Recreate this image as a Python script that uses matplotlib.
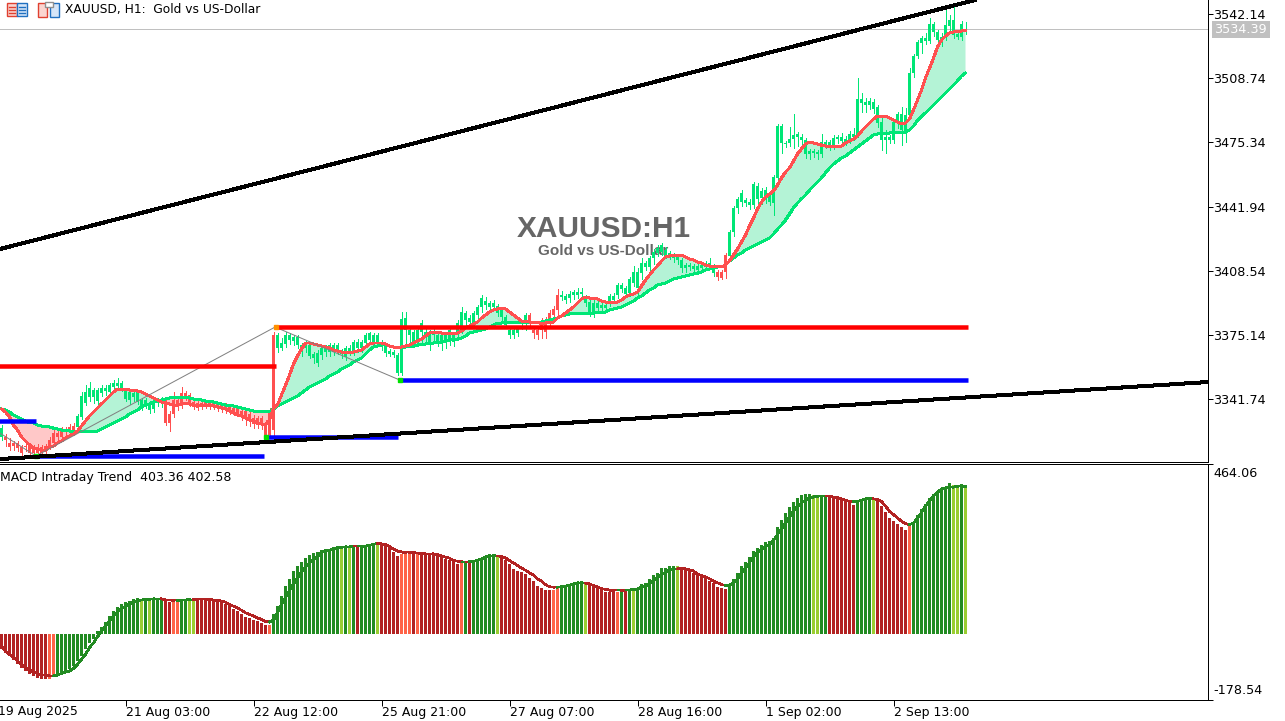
import matplotlib
matplotlib.use('Agg')
import matplotlib.pyplot as plt
from matplotlib.patches import Rectangle
import numpy as np

# H1 candles, one row = 10 bars
opens = [3321.9,3320.4,3316.8,3317.3,3316.2,3313.6,3316.8,3313.6,3313.6,3313.6,
3313.6,3314.2,3317.3,3318.8,3321.9,3321.9,3324.6,3325.1,3324.6,3327.2,
3332.4,3339.7,3342.8,3342.8,3340.7,3344.9,3345.9,3345.4,3348.0,3348.5,
3347.5,3341.7,3341.2,3342.8,3340.2,3337.6,3338.6,3336.0,3336.5,3339.7,
3339.7,3329.3,3329.3,3334.0,3337.6,3338.6,3342.8,3339.7,3337.6,3337.1,
3337.6,3338.1,3338.1,3337.6,3337.1,3336.5,3336.0,3335.5,3335.0,3334.5,
3332.4,3331.9,3330.8,3328.8,3328.2,3328.2,3323.0,3323.0,3325.6,3368.3,
3368.3,3370.4,3372.5,3372.0,3369.9,3366.2,3368.3,3364.1,3363.1,3360.5,
3364.6,3366.2,3366.2,3366.2,3367.3,3365.2,3363.6,3366.2,3366.2,3368.3,
3368.3,3370.9,3372.5,3371.4,3371.4,3368.8,3365.7,3365.2,3364.6,3355.3,
3355.3,3377.7,3375.1,3371.4,3371.4,3376.6,3375.1,3370.9,3375.1,3371.4,
3371.4,3371.4,3372.5,3371.4,3375.1,3377.7,3382.9,3381.8,3381.3,3385.5,
3389.6,3390.7,3389.6,3389.6,3386.5,3384.4,3380.3,3375.1,3375.1,3376.1,
3380.8,3381.8,3382.9,3376.1,3375.1,3377.7,3376.6,3381.8,3385.5,3388.1,
3394.8,3393.3,3394.3,3395.9,3395.9,3396.4,3391.7,3386.5,3387.0,3389.1,
3389.1,3389.1,3392.2,3393.3,3395.9,3399.0,3396.4,3396.9,3402.1,3399.5,
3407.4,3410.5,3410.5,3415.1,3417.7,3418.2,3415.7,3416.2,3415.1,3414.1,
3409.9,3409.9,3410.5,3409.4,3408.9,3409.9,3410.5,3411.0,3407.3,3405.3,
3404.7,3407.9,3416.2,3428.7,3441.2,3444.3,3443.8,3442.7,3442.7,3445.9,
3446.4,3446.4,3444.3,3443.8,3456.8,3475.0,3474.5,3475.0,3477.1,3478.1,
3476.6,3469.3,3469.3,3469.8,3469.3,3469.3,3474.5,3472.9,3472.9,3477.1,
3476.0,3475.0,3476.6,3478.1,3479.2,3495.8,3494.8,3494.8,3492.7,3485.4,
3476.6,3476.6,3476.6,3476.6,3485.9,3481.8,3480.7,3489.6,3511.4,3520.3,
3527.1,3528.1,3528.1,3532.8,3528.6,3528.1,3530.2,3535.9,3531.2,3530.2,
3530.2,3533.3]

closes = [3326.6,3321.9,3318.8,3318.8,3318.8,3316.8,3317.3,3317.3,3316.8,3316.8,
3316.8,3317.3,3320.4,3324.0,3324.0,3325.6,3325.6,3327.2,3327.7,3332.9,
3343.3,3345.4,3347.5,3346.4,3346.4,3347.5,3347.5,3349.0,3350.1,3350.1,
3350.1,3346.4,3345.4,3344.9,3345.4,3341.2,3341.2,3339.7,3339.7,3341.2,
3341.2,3339.7,3334.0,3341.2,3341.2,3344.9,3344.9,3343.8,3340.2,3339.7,
3339.7,3340.2,3339.7,3339.7,3339.2,3338.6,3338.6,3338.1,3337.1,3337.1,
3335.5,3335.5,3334.0,3331.9,3331.9,3331.9,3329.3,3334.5,3375.1,3375.1,
3370.9,3375.1,3375.1,3374.0,3374.0,3369.9,3370.9,3369.9,3365.2,3365.7,
3368.3,3368.3,3369.9,3369.9,3369.9,3366.7,3368.3,3368.3,3371.4,3371.4,
3371.4,3375.1,3376.1,3375.1,3375.1,3370.9,3369.9,3366.7,3366.2,3364.6,
3383.4,3383.9,3377.7,3376.6,3377.7,3381.3,3376.6,3375.1,3376.6,3375.1,
3375.1,3375.1,3377.7,3375.1,3381.3,3387.0,3386.5,3383.9,3386.5,3389.6,
3394.3,3392.8,3391.7,3391.7,3390.2,3388.1,3384.4,3377.7,3377.7,3378.7,
3381.8,3385.5,3385.5,3377.7,3377.7,3381.8,3382.9,3386.5,3388.6,3395.9,
3395.9,3395.4,3396.4,3397.4,3397.4,3397.4,3394.8,3392.2,3391.7,3391.7,
3390.7,3390.7,3395.4,3395.4,3401.1,3401.1,3399.5,3404.2,3407.9,3407.9,
3412.5,3412.5,3415.1,3418.2,3420.3,3421.9,3419.3,3417.7,3416.7,3415.7,
3414.1,3411.5,3411.5,3411.0,3411.0,3411.5,3412.5,3412.5,3410.5,3407.9,
3407.9,3416.7,3428.7,3441.2,3445.9,3449.0,3445.3,3444.3,3453.7,3452.6,
3450.0,3450.5,3447.9,3457.3,3483.8,3483.8,3475.0,3477.1,3479.2,3479.7,
3478.1,3476.6,3470.8,3470.8,3470.3,3475.5,3475.5,3475.5,3477.6,3478.1,
3478.1,3477.1,3479.7,3479.7,3497.9,3497.9,3496.3,3496.9,3496.3,3493.7,
3485.9,3478.1,3478.1,3485.9,3490.1,3490.1,3489.6,3511.4,3520.3,3527.6,
3529.7,3529.7,3536.9,3536.9,3532.8,3530.2,3536.4,3539.0,3539.0,3531.7,
3536.9,3534.4]

highs = [3328.2,3323.5,3321.4,3319.9,3319.9,3317.8,3318.8,3318.8,3317.8,3318.3,
3317.8,3318.3,3321.9,3325.6,3325.1,3327.2,3327.2,3328.7,3329.3,3334.0,
3345.4,3349.0,3350.6,3347.5,3347.5,3349.0,3349.0,3350.1,3351.6,3352.7,
3351.1,3347.5,3346.4,3345.9,3346.4,3342.3,3342.3,3340.7,3341.2,3342.3,
3342.8,3341.7,3335.5,3345.4,3342.3,3348.0,3345.9,3344.9,3341.2,3341.2,
3340.7,3341.2,3340.7,3340.7,3340.2,3339.7,3339.7,3339.2,3338.6,3338.1,
3337.1,3336.5,3335.0,3333.4,3332.9,3332.9,3330.8,3337.1,3376.6,3376.1,
3373.5,3376.6,3376.1,3375.1,3375.1,3370.9,3371.9,3370.9,3366.2,3367.3,
3369.3,3369.9,3370.9,3370.9,3370.9,3367.8,3369.3,3369.9,3372.5,3373.0,
3372.5,3376.1,3376.6,3376.1,3376.1,3372.5,3370.9,3367.8,3367.3,3365.7,
3387.0,3387.0,3378.7,3377.7,3378.7,3382.9,3378.7,3377.7,3378.7,3376.6,
3376.6,3376.6,3379.2,3376.6,3382.9,3389.6,3387.6,3385.5,3387.6,3390.7,
3395.9,3394.8,3392.8,3393.3,3391.2,3389.1,3385.5,3379.2,3378.7,3379.7,
3382.9,3386.5,3386.5,3379.2,3379.2,3383.9,3384.4,3388.1,3390.2,3399.0,
3397.9,3396.4,3397.9,3398.5,3399.5,3399.5,3395.9,3393.8,3393.3,3392.8,
3391.7,3392.8,3396.4,3396.9,3402.1,3402.1,3400.6,3405.3,3411.0,3409.9,
3415.1,3413.6,3416.2,3419.8,3421.9,3422.9,3420.9,3418.8,3417.7,3417.2,
3415.1,3412.5,3412.5,3412.0,3412.0,3413.0,3413.6,3415.1,3412.0,3408.9,
3408.9,3417.7,3429.7,3442.2,3446.9,3450.5,3446.4,3445.9,3454.7,3454.2,
3451.6,3452.1,3449.5,3458.3,3484.9,3484.9,3476.0,3483.3,3490.1,3480.7,
3479.7,3477.6,3471.9,3471.9,3471.4,3479.7,3476.6,3476.6,3479.2,3479.2,
3480.2,3478.6,3481.2,3482.8,3508.8,3501.0,3498.4,3498.4,3497.9,3494.8,
3488.0,3481.8,3479.2,3487.0,3491.1,3493.7,3493.2,3514.0,3521.3,3528.6,
3530.7,3532.3,3540.1,3538.0,3533.8,3532.3,3545.8,3541.6,3545.8,3533.8,
3538.5,3538.0]

lows = [3320.4,3317.3,3315.2,3315.2,3314.7,3312.1,3314.7,3312.1,3312.6,3312.1,
3312.6,3313.1,3315.7,3317.8,3319.9,3319.9,3322.5,3323.5,3323.0,3325.6,
3331.3,3338.6,3340.7,3339.7,3339.2,3343.3,3343.8,3343.3,3346.4,3346.9,
3345.9,3340.7,3339.2,3340.7,3339.2,3336.0,3337.1,3334.5,3335.0,3338.1,
3337.6,3328.2,3325.1,3332.4,3336.0,3337.1,3341.2,3338.1,3336.5,3336.0,
3336.5,3337.1,3336.5,3336.5,3335.5,3335.0,3334.5,3334.0,3333.4,3332.9,
3330.8,3328.2,3327.7,3326.6,3326.6,3326.1,3322.0,3322.0,3323.0,3366.2,
3367.3,3368.8,3370.4,3369.9,3368.3,3364.1,3366.2,3363.1,3360.5,3358.9,
3362.6,3364.1,3364.1,3364.6,3365.2,3363.1,3362.0,3364.6,3364.6,3366.2,
3366.2,3369.3,3370.4,3369.9,3369.3,3367.3,3364.1,3364.1,3363.6,3354.2,
3354.2,3370.9,3369.9,3368.8,3369.3,3371.4,3371.4,3367.3,3371.4,3369.3,
3367.3,3368.3,3369.9,3369.3,3372.5,3376.1,3379.7,3379.7,3379.2,3382.9,
3387.0,3388.6,3388.1,3388.1,3384.9,3382.9,3378.7,3373.5,3373.5,3374.5,
3378.2,3377.7,3380.3,3373.5,3373.0,3373.5,3373.5,3378.7,3382.9,3385.5,
3393.3,3391.7,3392.2,3393.8,3394.3,3394.3,3390.2,3384.9,3384.4,3386.5,
3386.5,3387.0,3390.2,3391.7,3394.3,3397.4,3395.4,3395.4,3400.6,3395.4,
3404.2,3408.9,3407.9,3412.0,3416.2,3416.7,3415.1,3414.6,3413.0,3412.0,
3407.9,3407.9,3408.9,3407.3,3406.8,3407.9,3408.9,3409.4,3405.8,3403.7,
3404.2,3404.7,3415.1,3426.6,3438.6,3442.2,3442.2,3440.6,3441.2,3443.8,
3443.3,3443.8,3442.7,3437.5,3455.7,3469.8,3472.9,3473.4,3472.4,3473.4,
3473.9,3467.2,3466.7,3467.7,3466.7,3467.7,3472.4,3471.4,3471.9,3475.0,
3474.5,3473.9,3475.0,3476.6,3478.1,3491.1,3491.1,3492.7,3490.6,3483.3,
3471.4,3469.8,3475.0,3475.0,3482.8,3473.9,3475.5,3488.5,3509.4,3519.2,
3521.8,3526.5,3527.1,3530.7,3526.5,3525.5,3528.6,3533.8,3529.7,3529.1,
3528.6,3531.7]

# moving averages
ma_fast = [3336.5,3335.0,3332.4,3328.2,3325.6,3322.0,3319.9,3317.8,3316.2,3315.7,
3315.2,3315.2,3316.8,3317.3,3318.8,3319.9,3321.4,3322.5,3323.5,3325.1,
3327.7,3330.3,3332.9,3335.0,3337.1,3339.2,3341.2,3343.3,3345.4,3346.9,
3346.9,3346.9,3346.4,3346.4,3345.9,3345.4,3344.3,3343.3,3342.3,3341.2,
3340.2,3339.7,3339.2,3338.6,3338.6,3339.2,3339.2,3339.2,3338.6,3338.6,
3338.6,3338.6,3338.6,3338.1,3337.6,3337.1,3336.5,3335.5,3334.5,3333.4,
3332.9,3331.9,3330.8,3330.3,3329.3,3328.7,3328.2,3330.8,3337.1,3338.6,
3343.8,3349.0,3354.2,3360.0,3364.1,3367.8,3370.9,3370.9,3370.4,3369.9,
3369.3,3368.8,3368.3,3367.3,3366.7,3366.2,3366.2,3366.2,3366.2,3366.7,
3367.3,3368.8,3370.4,3370.9,3370.9,3370.9,3370.4,3369.3,3368.8,3368.3,
3368.8,3369.3,3369.9,3370.9,3371.9,3373.0,3374.5,3376.1,3376.6,3376.6,
3376.1,3376.1,3376.1,3376.1,3376.1,3377.2,3378.7,3379.7,3380.8,3381.8,
3383.9,3385.5,3387.0,3388.1,3388.6,3388.6,3388.6,3387.0,3385.5,3383.9,
3382.3,3382.3,3381.8,3381.8,3381.8,3380.8,3381.3,3381.8,3381.8,3383.9,
3384.9,3386.5,3388.1,3389.6,3391.7,3393.8,3394.8,3394.3,3394.3,3393.8,
3392.8,3392.2,3392.2,3392.2,3392.2,3393.3,3394.8,3395.9,3396.4,3397.4,
3400.6,3403.7,3406.3,3408.9,3411.0,3413.6,3415.7,3416.2,3416.7,3416.7,
3416.7,3415.7,3414.6,3414.1,3413.0,3412.5,3411.5,3411.0,3410.5,3410.5,
3410.5,3411.5,3413.6,3416.7,3419.8,3423.5,3427.1,3431.8,3436.0,3440.6,
3444.3,3446.9,3448.5,3450.0,3453.1,3456.8,3459.9,3462.0,3465.6,3469.3,
3471.9,3474.5,3475.5,3475.0,3474.5,3473.9,3473.4,3473.4,3473.4,3473.4,
3473.4,3475.0,3476.0,3477.1,3478.6,3481.2,3483.3,3485.4,3487.5,3489.0,
3489.0,3489.0,3488.0,3487.0,3485.9,3484.9,3485.4,3487.5,3492.2,3497.4,
3502.6,3508.8,3514.0,3519.2,3525.0,3528.6,3530.7,3532.3,3532.8,3532.8,
3533.3,3533.3]

ma_slow = [3336.5,3336.0,3335.0,3333.4,3332.4,3331.4,3330.3,3329.3,3329.3,3328.2,
3327.7,3327.2,3327.2,3326.6,3326.1,3325.6,3325.1,3325.1,3324.6,3324.6,
3324.6,3324.6,3324.6,3324.6,3325.1,3326.1,3327.2,3328.2,3329.3,3330.3,
3331.4,3332.4,3334.0,3335.0,3336.0,3337.6,3338.6,3339.2,3340.2,3340.2,
3341.2,3341.7,3342.3,3342.3,3342.3,3342.3,3342.3,3342.3,3341.7,3341.7,
3341.2,3340.7,3340.2,3340.2,3339.7,3339.2,3338.6,3338.6,3338.1,3337.6,
3337.1,3336.5,3336.0,3335.5,3335.0,3335.0,3335.0,3335.0,3336.5,3338.1,
3339.2,3340.2,3341.2,3342.3,3343.3,3344.9,3346.4,3348.0,3349.0,3350.1,
3351.1,3352.2,3353.7,3354.8,3355.8,3357.4,3358.4,3359.5,3361.0,3362.0,
3363.1,3365.2,3367.3,3368.8,3369.3,3369.9,3369.9,3369.3,3368.8,3368.8,
3368.8,3368.8,3369.3,3369.3,3369.9,3369.9,3370.4,3370.4,3370.9,3371.4,
3371.4,3371.9,3372.5,3372.5,3373.0,3373.5,3374.5,3376.1,3376.6,3377.2,
3377.7,3378.2,3379.2,3380.3,3381.3,3381.3,3381.8,3381.8,3381.8,3381.8,
3381.8,3381.8,3381.8,3381.8,3381.8,3381.8,3382.3,3382.9,3383.4,3383.9,
3384.9,3385.5,3386.0,3386.5,3386.5,3386.5,3386.5,3386.5,3386.5,3387.0,
3387.0,3387.0,3388.1,3388.6,3389.1,3389.6,3390.7,3391.7,3392.8,3394.3,
3395.4,3396.9,3398.5,3399.5,3401.1,3401.6,3402.1,3403.2,3404.2,3404.7,
3405.3,3405.8,3406.3,3406.8,3407.3,3407.9,3408.9,3409.4,3409.9,3410.5,
3410.5,3411.5,3413.6,3415.1,3416.7,3417.7,3419.3,3420.3,3421.4,3422.4,
3423.5,3424.5,3425.6,3427.6,3430.2,3432.3,3434.9,3438.0,3441.2,3443.8,
3445.9,3447.9,3450.5,3452.6,3454.7,3456.8,3459.4,3462.0,3464.1,3465.6,
3467.2,3468.2,3469.8,3471.4,3472.9,3474.5,3476.0,3477.6,3479.2,3479.7,
3480.2,3480.2,3480.2,3480.7,3480.7,3480.7,3480.7,3481.8,3483.8,3486.9,
3489.0,3490.6,3492.7,3494.8,3496.9,3498.9,3501.0,3503.1,3505.2,3507.3,
3509.9,3511.4]

# MACD window
macd_hist = [-40,-53,-60,-71,-83,-93,-101,-108,-114,-119,
-123,-123,-123,-114,-114,-107,-103,-96,-87,-73,
-60,-42,-24,-13,8,20,34,49,63,73,
83,87,91,96,99,96,94,93,94,96,
98,92,87,91,91,93,94,93,94,96,
96,96,96,93,91,87,83,76,69,63,
54,47,44,38,35,31,24,24,56,76,
105,131,151,171,185,197,208,216,221,224,
230,232,230,238,239,235,239,236,239,238,
239,241,244,247,247,247,241,234,225,212,
219,221,221,221,219,219,219,219,219,216,
209,205,201,196,192,196,198,198,198,200,
207,212,216,216,212,210,203,190,178,171,
169,163,152,144,132,127,120,120,120,125,
127,129,132,140,141,143,138,135,131,126,
122,116,116,118,116,118,117,122,120,126,
136,140,149,160,167,179,181,185,185,185,
181,178,172,166,160,156,152,146,138,128,
126,122,136,149,167,187,198,209,226,234,
244,250,253,263,293,312,331,348,361,372,
380,383,383,380,371,374,374,376,376,372,
369,365,358,353,362,365,370,374,370,367,
349,332,318,308,301,291,283,294,307,326,
342,356,372,383,390,394,402,411,408,408,
408,403.36]

macd_signal = [-34,-47,-55,-64,-73,-83,-92,-99,-103,-108,
-111,-112,-114,-114,-112,-107,-104,-101,-94,-83,
-69,-55,-37,-24,-7,8,22,35,49,60,
69,76,83,87,91,93,94,95,96,96,
96,93,93,92,92,93,93,94,94,95,
95,95,94,93,92,90,87,81,76,71,
65,58,54,49,44,40,34,33,38,58,
81,99,119,137,152,169,183,194,203,212,
223,226,229,232,236,237,238,238,239,239,
239,240,242,245,247,246,244,239,232,227,
224,223,223,222,221,220,219,219,219,217,
213,210,207,201,199,198,198,198,199,201,
205,210,214,214,213,212,208,201,194,187,
180,174,167,161,151,144,135,129,128,128,
129,131,133,137,140,140,139,137,132,129,
124,122,120,119,119,119,120,120,122,123,
129,131,138,147,156,162,169,175,178,178,
179,178,175,172,163,160,156,151,145,140,
135,133,134,140,151,166,181,195,211,224,
231,240,244,256,272,287,303,320,335,349,
358,365,371,374,376,376,376,376,374,372,
369,365,362,361,362,365,369,371,369,367,
362,349,335,326,317,308,301,299,303,317,
332,349,364,378,387,396,399,401,401,403,
405,402.58]

# g/r candle colouring and g/l/r/o histogram colouring, bar by bar
candle_state = 'g' + 'r'*18 + 'g'*22 + 'r'*27 + 'r' + 'g'*63 + 'r'*8 + 'g'*39 + 'r'*3 + 'g'*60
hist_state = ('r'*12 + 'oo' + 'g'*21 + 'l' + 'g' + 'l' + 'g'*3 + 'rr' + 'oo' + 'gg' + 'll' + 'r'*18 + 'o'
    + 'g'*17 + 'l' + 'g' + 'l' + 'g' + 'r' + 'g'*4 + 'l' + 'r'*5 + 'ooo' + 'r' + 'o' + 'r'*10 + 'o' + 'g' + 'r'
    + 'g'*6 + 'l' + 'r'*13 + 'oo' + 'g'*6 + 'l' + 'r'*7 + 'o' + 'g' + 'r' + 'g' + 'l' + 'g'
    + 'g'*9 + 'l' + 'r'*12 + 'g'*21 + 'll' + 'gg' + 'r'*7 + 'g'*4 + 'l' + 'r'*8 + 'o' + 'g'*10 + 'll' + 'g' + 'l')

# price levels and lines, as (bar, price)
res_levels = [(-1, 68.5, 3358.9), (68.5, 241.7, 3379.0)]
sup_levels = [(-1, 8.5, 3330.3), (8, 65.5, 3312.1), (66, 99, 3322.0), (99.2, 241.7, 3351.4)]
upper_trend_x = [-0.4, 243.4]
upper_trend_y = [3419.8, 3549.4]
lower_trend_x = [-0.4, 301.7]
lower_trend_y = [3310.5, 3350.6]
zigzag_x = [-0.4, 8.6, 68.4, 99.6]
zigzag_y = [3324.0, 3312.1, 3379.2, 3351.6]
last_price = 3534.39

price_ticks = [3542.14, 3508.74, 3475.34, 3441.94, 3408.54, 3375.14, 3341.74]
time_ticks = [31, 63, 95, 127, 159, 191, 223]
time_labels = ['21 Aug 03:00', '22 Aug 12:00', '25 Aug 21:00', '27 Aug 07:00', '28 Aug 16:00', '1 Sep 02:00', '2 Sep 13:00']

GREEN = '#00E676'
RED = '#FF5050'
PX = 0.72  # one pixel in points at dpi 100

plt.rcParams['font.family'] = ['DejaVu Sans']
fig = plt.figure(figsize=(12.85, 7.21), dpi=100)

ax = fig.add_axes([0, 1 - 462 / 721, 1208 / 1285, 462 / 721])
ax2 = fig.add_axes([0, 1 - 699.5 / 721, 1208 / 1285, 235.5 / 721])
ov = fig.add_axes([0, 0, 1, 1])
ov.set_xlim(0, 1285)
ov.set_ylim(721, 0)
ov.axis('off')

x = np.arange(len(closes))
fast = np.array(ma_fast)
slow = np.array(ma_slow)

ax.set_xlim(-0.375, 301.625)
ax.set_ylim(3308.96, 3549.43)

ax.text(150.5, 3430.4, 'XAUUSD:H1', family='Liberation Sans', weight='bold', fontsize=21.5, color='#666666',
        ha='center', va='center', zorder=1)
ax.text(150.5, 3418.6, 'Gold vs US-Dollar', family='Liberation Sans', weight='bold', fontsize=11, color='#666666',
        ha='center', va='center', zorder=1)

ax.fill_between(x, fast, slow, where=fast >= slow, interpolate=True, color='#B4F3D6', lw=0, zorder=2)
ax.fill_between(x, fast, slow, where=fast < slow, interpolate=True, color='#FFC8C8', lw=0, zorder=2)
ax.axhline(last_price, color='#C0C0C0', lw=PX, zorder=2)

# candles
for i in x:
    col = GREEN if candle_state[i] == 'g' else RED
    ax.vlines(i, lows[i], highs[i], color=col, lw=PX, zorder=3, antialiased=False)
    ax.bar(i, closes[i] - opens[i], bottom=opens[i], width=0.8, color=col, lw=0, zorder=3, antialiased=False)

ax.plot(x, slow, color=GREEN, lw=2 * PX, zorder=4, antialiased=False)
ax.plot(x, fast, color=RED, lw=2 * PX, zorder=5, antialiased=False)

ax.plot(zigzag_x, zigzag_y, color='#808080', lw=PX, zorder=6)
ax.plot(zigzag_x[1:2], zigzag_y[1:2], 's', color='#00E000', ms=3, zorder=7)
ax.plot([66.2, 99.6], [3322.0, 3351.4], 's', color='#00E000', ms=3.2, lw=0, zorder=7)
ax.plot([68.5], [3379.2], 's', color='#FF9000', ms=3.2, zorder=7)

for x0, x1, level in res_levels:
    ax.hlines(level, x0, x1, color='#FF0000', lw=4.5 * PX, zorder=6)
for x0, x1, level in sup_levels:
    ax.hlines(level, x0, x1, color='#0000FF', lw=4.5 * PX, zorder=6)

ax.plot(upper_trend_x, upper_trend_y, color='black', lw=3 * PX, zorder=8, antialiased=False)
ax.plot(lower_trend_x, lower_trend_y, color='black', lw=3 * PX, zorder=8, antialiased=False)

ax.yaxis.tick_right()
ax.set_yticks(price_ticks)
ax.set_yticklabels(['%.2f' % p for p in price_ticks])
ax.tick_params(axis='y', length=3.4, width=PX, pad=0.5, labelsize=9.2)
ax.set_xticks([])
for s in ['top', 'left']:
    ax.spines[s].set_visible(False)
ax.spines['right'].set_linewidth(PX)
ax.spines['bottom'].set_linewidth(PX)

# MACD panel
bar_cols = {'g': '#228B22', 'l': '#9ACD32', 'r': '#B22222', 'o': '#FF6347'}
ax2.bar(x, macd_hist, width=0.8, color=[bar_cols[c] for c in hist_state], lw=0, antialiased=False, zorder=2)
for i in x[:-1]:
    col = '#228B22' if hist_state[i + 1] in 'gl' else '#B22222'
    ax2.plot(x[i:i + 2], macd_signal[i:i + 2], color=col, lw=1.7 * PX, antialiased=False, zorder=3)

ax2.set_xlim(-0.375, 301.625)
ax2.set_ylim(-178.54, 464.06)
ax2.patch.set_alpha(0)
ax2.yaxis.tick_right()
ax2.set_yticks([-178.54, 464.06])
ax2.set_yticklabels(['', ''])
ax2.tick_params(axis='y', length=3.4, width=PX)
ax2.set_xticks(time_ticks)
ax2.set_xticklabels(time_labels, ha='left', fontsize=9)
ax2.tick_params(axis='x', length=4, width=PX, pad=1)
ax2.spines['left'].set_visible(False)
ax2.spines['right'].set_linewidth(PX)
ax2.spines['top'].set_linewidth(PX)
ax2.spines['bottom'].set_linewidth(PX)

# overlay texts and toolbar icons
ov.text(-2, 712, '19 Aug 2025', fontsize=9, va='center', clip_on=False)
ov.text(0.5, 477, 'MACD Intraday Trend  403.36 402.58', fontsize=9, va='center')
ov.text(1213, 473.5, '464.06', fontsize=9.2, va='center')
ov.text(1213, 691, '-178.54', fontsize=9.2, va='center')
ov.text(65, 10, 'XAUUSD, H1:  Gold vs US-Dollar', fontsize=8.8, va='center')
ov.add_patch(Rectangle((1212, 21), 58, 17, color='#C0C0C0', lw=0))
ov.text(1214, 29.5, '%.2f' % last_price, fontsize=9.2, color='white', va='center')

ov.add_patch(Rectangle((7, 3), 10, 13, fc='#FBD5D0', ec='#E04030', lw=1))
ov.add_patch(Rectangle((17, 3), 10, 13, fc='#D5E5F8', ec='#2070C0', lw=1))
for yy in [7, 10, 13]:
    ov.plot([9, 15], [yy, yy], color='#E04030', lw=1)
    ov.plot([19, 25], [yy, yy], color='#2070C0', lw=1)
ov.add_patch(Rectangle((38, 3), 9, 14, fc='#FBD5D0', ec='#E04030', lw=1))
ov.add_patch(Rectangle((50, 3), 9, 14, fc='#D5E5F8', ec='#2070C0', lw=1))
ov.add_patch(Rectangle((45, 2), 8, 5, fc='white', ec='#909090', lw=1))

fig.savefig('out.png', dpi=100)
